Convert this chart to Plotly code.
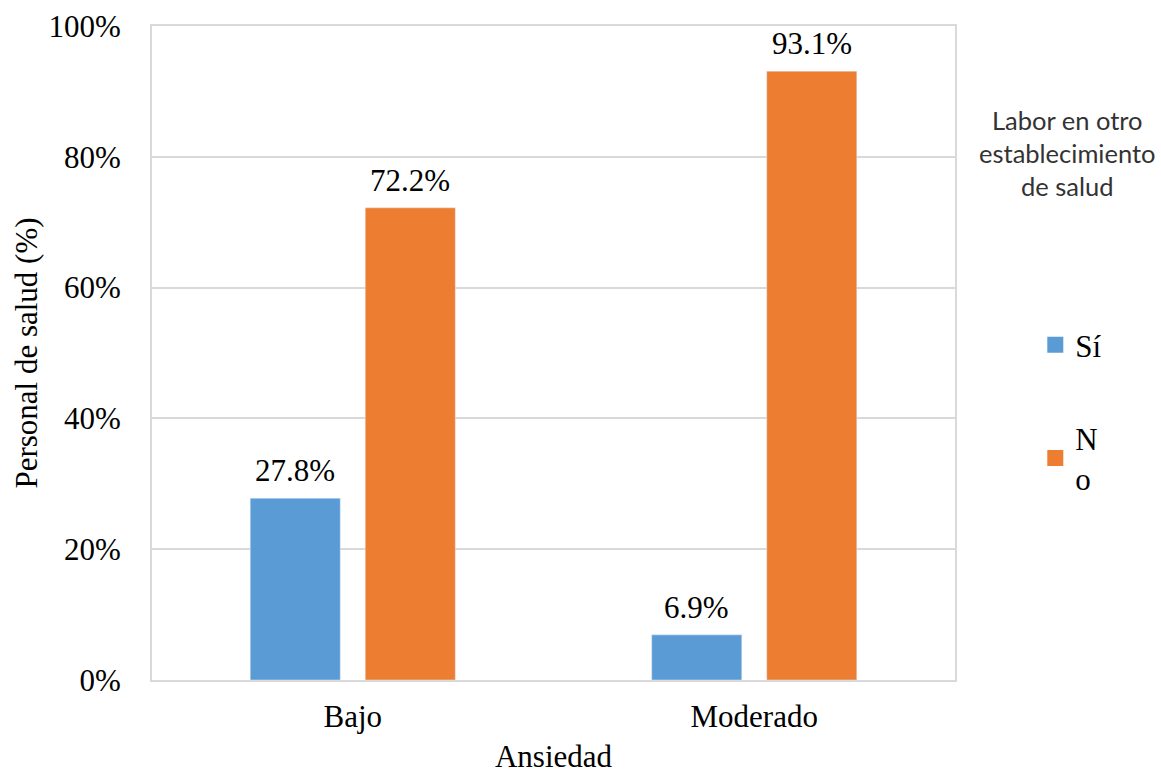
import plotly.graph_objects as go

categories = ["Bajo", "Moderado"]
si_values = [27.8, 6.9]
no_values = [72.2, 93.1]
series_names = ["Sí", "N<br>o"]
series_colors = ["#5B9BD5", "#ED7D31"]
legend_title = "Labor en otro<br>establecimiento<br>de salud"
y_ticks = [0, 20, 40, 60, 80, 100]
y_tick_labels = ["0%", "20%", "40%", "60%", "80%", "100%"]

serif = "Liberation Serif"
FS = 31
BARGAP = 0.427
GROUPGAP = 0.217
PLOT_W = 1161 - 152 - 206

fig = go.Figure()
series = [si_values, no_values]
legends = ["legend", "legend2"]
for i, vals in enumerate(series):
    fig.add_trace(go.Bar(
        x=categories, y=vals, name=series_names[i],
        marker_color=series_colors[i], showlegend=False,
    ))
    # legend entry with a larger square swatch
    fig.add_trace(go.Scatter(
        x=[None], y=[None], mode="markers", name=series_names[i],
        marker=dict(symbol="square", size=17, color=series_colors[i]),
        legend=legends[i], showlegend=True,
    ))

# data labels placed above each bar
cat_w = PLOT_W / len(categories)
slot = cat_w * (1 - BARGAP) / len(series)
annotations = []
for i, vals in enumerate(series):
    shift = (i - (len(series) - 1) / 2) * slot
    for c, v in zip(categories, vals):
        annotations.append(dict(
            x=c, y=v, xref="x", yref="y", text=f"{v:.1f}%",
            showarrow=False, xanchor="center", yanchor="bottom",
            xshift=shift, yshift=8,
            font=dict(family=serif, size=FS, color="black"),
        ))
annotations.append(dict(
    text=legend_title, xref="paper", yref="paper",
    x=1.14, y=0.806, xanchor="center", yanchor="middle",
    showarrow=False, align="center",
    font=dict(family="Lato", size=25.5, color="#333333"),
))

fig.update_layout(
    width=1161, height=774,
    margin=dict(l=152, r=206, t=26, b=94),
    paper_bgcolor="white", plot_bgcolor="white",
    bargap=BARGAP, bargroupgap=GROUPGAP,
    showlegend=True,
    font=dict(family=serif, size=FS, color="black"),
    xaxis=dict(
        title=dict(text="Ansiedad", font=dict(family=serif, size=FS), standoff=18),
        automargin=False,
        showline=True, linecolor="#d9d9d9", linewidth=2, mirror=True,
        ticks="outside", ticklen=8, tickcolor="rgba(0,0,0,0)",
        tickfont=dict(family=serif, size=FS),
    ),
    yaxis=dict(
        title=dict(text="Personal de salud (%)", font=dict(family=serif, size=FS), standoff=2),
        automargin=False,
        range=[0, 100], tickvals=y_ticks, ticktext=y_tick_labels,
        showgrid=True, gridcolor="#d9d9d9", gridwidth=1.5,
        showline=True, linecolor="#d9d9d9", linewidth=2, mirror=True,
        zeroline=False,
        ticks="outside", ticklen=23, tickcolor="rgba(0,0,0,0)",
        tickfont=dict(family=serif, size=FS),
    ),
    legend=dict(
        x=1.1, y=0.512, xanchor="left", yanchor="middle",
        font=dict(family=serif, size=FS), bgcolor="rgba(0,0,0,0)",
        itemwidth=30,
    ),
    legend2=dict(
        x=1.1, y=0.411, xanchor="left", yanchor="top",
        font=dict(family=serif, size=FS), bgcolor="rgba(0,0,0,0)",
        itemwidth=30,
    ),
    annotations=annotations,
)

fig.write_html("out.html")
